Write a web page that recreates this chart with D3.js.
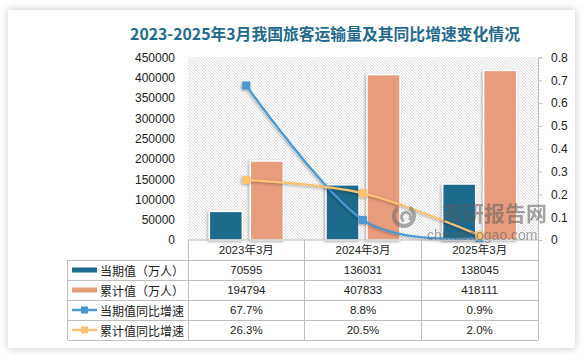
<!DOCTYPE html>
<html><head><meta charset="utf-8">
<script src="https://cdn.jsdelivr.net/npm/d3@7"></script>
<style>
html,body{margin:0;padding:0;background:#fff;}
svg{display:block;}
text{font-family:"Liberation Sans","Noto Sans CJK SC",sans-serif;}
</style></head>
<body>
<svg id="c" width="586" height="357"></svg>
<script>
const title = "2023-2025年3月我国旅客运输量及其同比增速变化情况";
const categories = ["2023年3月", "2024年3月", "2025年3月"];
const currentValues = [70595, 136031, 138045];
const cumulativeValues = [194794, 407833, 418111];
const currentGrowth = [0.677, 0.088, 0.009];
const cumulativeGrowth = [0.263, 0.205, 0.020];
const currentGrowthLabels = ["67.7%", "8.8%", "0.9%"];
const cumulativeGrowthLabels = ["26.3%", "20.5%", "2.0%"];
const leftTicks = [0, 50000, 100000, 150000, 200000, 250000, 300000, 350000, 400000, 450000];
const rightTicks = [0, 0.1, 0.2, 0.3, 0.4, 0.5, 0.6, 0.7, 0.8];
const rowNames = ["当期值（万人）", "累计值（万人）", "当期值同比增速", "累计值同比增速"];

const C_BAR1 = "#1d6a8c", C_BAR2 = "#e79c7c", C_LINE1 = "#4898d2", C_LINE2 = "#fcc271";
const svg = d3.select("#c");
const defs = svg.append("defs");

const cardShadow = defs.append("filter").attr("id","cardsh").attr("x","-10%").attr("y","-10%").attr("width","120%").attr("height","120%");
cardShadow.append("feDropShadow").attr("dx",0).attr("dy",0).attr("stdDeviation",4).attr("flood-color","#000").attr("flood-opacity",0.22);
const markSh = defs.append("filter").attr("id","marksh").attr("x","-30%").attr("y","-30%").attr("width","160%").attr("height","160%");
markSh.append("feDropShadow").attr("dx",-1).attr("dy",1).attr("stdDeviation",1.8).attr("flood-color","#000").attr("flood-opacity",0.35);

const pat = defs.append("pattern").attr("id","hatch").attr("patternUnits","userSpaceOnUse").attr("width",3).attr("height",3);
pat.append("rect").attr("width",3).attr("height",3).attr("fill","#fff");
pat.append("path").attr("d","M-1,-1 L4,4 M-1,2 L1,4 M2,-1 L4,1").attr("stroke","#cfcfcf").attr("stroke-width",0.7);

// card
svg.append("rect").attr("x",8).attr("y",10).attr("width",567).attr("height",338).attr("fill","#fff").attr("filter","url(#cardsh)");

// title
svg.append("text").attr("x",325).attr("y",33).attr("text-anchor","middle").attr("dominant-baseline","central")
  .attr("font-size",15.8).attr("font-weight","bold").attr("fill","#236b8c")
  .style("font-family","'Noto Sans CJK SC',sans-serif").text(title);

const X0 = 188, X1 = 538, YT = 57.5, YB = 240;
const x = d3.scaleBand().domain(categories).range([X0, X1]);
const xs = d3.scaleBand().domain(["cur","cum"]).range([-37, 37]).paddingInner(8/41);
const yL = d3.scaleLinear().domain([0, 450000]).range([YB, YT]);
const yR = d3.scaleLinear().domain([0, 0.8]).range([YB, YT]);

// plot background hatch
svg.append("rect").attr("x",X0).attr("y",YT).attr("width",X1-X0).attr("height",YB-YT).attr("fill","url(#hatch)");

// left axis labels
const la = svg.append("g").attr("transform",`translate(${X0},0)`)
  .call(d3.axisLeft(yL).tickValues(leftTicks).tickSize(0).tickPadding(13).tickFormat(d3.format("d")));
la.select(".domain").remove();
la.selectAll("text").attr("font-size",12).attr("fill","#222").style("font-family","'Liberation Sans',sans-serif");

// right axis
const ra = svg.append("g").attr("transform",`translate(${X1},0)`)
  .call(d3.axisRight(yR).tickValues(rightTicks).tickSize(4).tickPadding(9).tickFormat(d => d === 0 ? "0" : d3.format(".1f")(d)));
ra.select(".domain").attr("stroke","#bfbfbf");
ra.selectAll("line").attr("stroke","#bfbfbf");
ra.selectAll("text").attr("font-size",12).attr("fill","#222").style("font-family","'Liberation Sans',sans-serif");

// bars
const bars = svg.append("g");
categories.forEach((c, i) => {
  const cx = x(c) + x.bandwidth()/2;
  [["cur", currentValues[i], C_BAR1], ["cum", cumulativeValues[i], C_BAR2]].forEach(([k, v, col]) => {
    bars.append("rect").attr("x", cx + xs(k)).attr("y", yL(v)).attr("width", xs.bandwidth()).attr("height", YB - yL(v))
      .attr("fill", col).attr("stroke","#fff").attr("stroke-width",1.5).attr("filter","url(#marksh)");
  });
});

// lines
const lineGen = d3.line().x((d,i) => x(categories[i]) + x.bandwidth()/2).y(d => yR(d)).curve(d3.curveCardinal.tension(0));
[[currentGrowth, C_LINE1], [cumulativeGrowth, C_LINE2]].forEach(([data, col]) => {
  const g = svg.append("g").attr("filter","url(#marksh)");
  g.append("path").attr("d", lineGen(data)).attr("fill","none").attr("stroke",col).attr("stroke-width",2.25);
  g.selectAll("rect").data(data).join("rect")
    .attr("x",(d,i) => x(categories[i]) + x.bandwidth()/2 - 4).attr("y", d => yR(d) - 4)
    .attr("width",8).attr("height",8).attr("fill",col);
});

// axis baseline
svg.append("line").attr("x1",X0).attr("x2",X1).attr("y1",YB).attr("y2",YB).attr("stroke","#bfbfbf");

// data table
const TL = 67.5, rowH = 20;
const tg = svg.append("g").attr("stroke","#bfbfbf").attr("stroke-width",1).attr("shape-rendering","crispEdges");
[X0, ...categories.map(c => x(c) + x.bandwidth())].forEach(xx => {
  tg.append("line").attr("x1",xx).attr("x2",xx).attr("y1",YB).attr("y2",YB + rowH*5);
});
tg.append("line").attr("x1",TL).attr("x2",TL).attr("y1",YB+rowH).attr("y2",YB+rowH*5);
for (let r = 1; r <= 5; r++) {
  tg.append("line").attr("x1",TL).attr("x2",X1).attr("y1",YB+rowH*r).attr("y2",YB+rowH*r);
}
const txt = svg.append("g").attr("font-size",11.5).attr("fill","#222").attr("text-anchor","middle");
categories.forEach((c, i) => {
  const cx = x(c) + x.bandwidth()/2;
  txt.append("text").attr("x",cx).attr("y",YB+rowH*0.5).attr("dominant-baseline","central").text(c);
  const vals = [currentValues[i], cumulativeValues[i], currentGrowthLabels[i], cumulativeGrowthLabels[i]];
  vals.forEach((v, r) => {
    txt.append("text").attr("x",cx).attr("y",YB+rowH*(r+1.5)).attr("dominant-baseline","central").text(v);
  });
});
const keyCols = [C_BAR1, C_BAR2, C_LINE1, C_LINE2];
rowNames.forEach((name, r) => {
  const cy = YB + rowH*(r+1.5);
  if (r < 2) {
    svg.append("rect").attr("x",72).attr("y",cy-2.5).attr("width",25).attr("height",5).attr("fill",keyCols[r]);
  } else {
    svg.append("line").attr("x1",72).attr("x2",97).attr("y1",cy).attr("y2",cy).attr("stroke",keyCols[r]).attr("stroke-width",2.5);
    svg.append("rect").attr("x",84.5-3.5).attr("y",cy-3.5).attr("width",7).attr("height",7).attr("fill",keyCols[r]);
  }
  svg.append("text").attr("x",100).attr("y",cy).attr("dominant-baseline","central").attr("font-size",12).attr("fill","#222")
    .style("font-family","'Noto Sans CJK SC',sans-serif").text(name);
});

// watermark
const wm = svg.append("g").attr("opacity",0.55);
wm.append("path").attr("d", d3.arc()({innerRadius:8, outerRadius:12, startAngle:0.6, endAngle:5.6})).attr("transform","translate(404,216)").attr("fill","#6a6a6a");
wm.append("path").attr("d", d3.arc()({innerRadius:3, outerRadius:6, startAngle:3.6, endAngle:8.6})).attr("transform","translate(406,217)").attr("fill","#6a6a6a");
wm.append("text").attr("x",442).attr("y",221).attr("font-size",21).attr("font-weight","bold").attr("fill","#5f5f5f")
  .style("font-family","'Noto Sans CJK SC',sans-serif").text("观研报告网");
wm.append("text").attr("x",427).attr("y",240).attr("font-size",14).attr("fill","#5f5f5f").text("chinabaogao.com");
</script>
</body></html>
